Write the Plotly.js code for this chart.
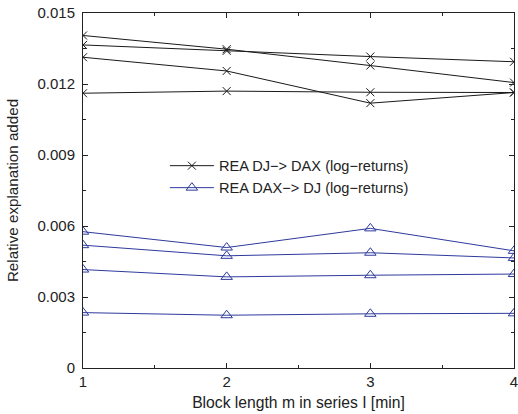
<!DOCTYPE html>
<html><head><meta charset="utf-8">
<script src="https://cdn.plot.ly/plotly-3.0.1.min.js"></script>
<style>html,body{margin:0;padding:0;background:#fff}#c{width:518px;height:414px}</style>
</head><body><div id="c"></div>
<script>
const blockLength = [1, 2, 3, 4];
const djToDax1 = [0.01405, 0.01347, 0.01278, 0.01206];
const djToDax2 = [0.01365, 0.01340, 0.01316, 0.01294];
const djToDax3 = [0.01313, 0.01255, 0.01119, 0.01164];
const djToDax4 = [0.01161, 0.01170, 0.01165, 0.01164];
const daxToDj1 = [0.00576, 0.00509, 0.00590, 0.00495];
const daxToDj2 = [0.00519, 0.00474, 0.00487, 0.00465];
const daxToDj3 = [0.00416, 0.00385, 0.00392, 0.00397];
const daxToDj4 = [0.00234, 0.00223, 0.00229, 0.00231];
const legendNames = ['REA DJ\u2212> DAX (log\u2212returns)', 'REA DAX\u2212> DJ (log\u2212returns)'];

const black = '#1a1a1a', blue = '#2d3a9c';
const traces = [];
[djToDax1, djToDax2, djToDax3, djToDax4].forEach((y, i) => traces.push({
  x: blockLength, y: y, mode: 'lines+markers', type: 'scatter',
  name: legendNames[0], showlegend: i === 0, legendgroup: 'a',
  line: {color: black, width: 1},
  marker: {symbol: 'x-thin-open', size: 8, color: black, line: {color: black, width: 1}}
}));
[daxToDj1, daxToDj2, daxToDj3, daxToDj4].forEach((y, i) => traces.push({
  x: blockLength, y: y, mode: 'lines+markers', type: 'scatter',
  name: legendNames[1], showlegend: i === 0, legendgroup: 'b',
  line: {color: blue, width: 1},
  marker: {symbol: 'triangle-up-open', size: 10, color: blue, line: {color: blue, width: 1}}
}));

const font = {family: 'Liberation Sans, Arial, sans-serif', size: 15, color: '#222'};
const layout = {
  width: 518, height: 414,
  margin: {l: 83, r: 4, t: 13, b: 46},
  paper_bgcolor: '#fff', plot_bgcolor: '#fff',
  font: font,
  showlegend: true,
  legend: {x: 0.19, y: 0.615, xanchor: 'left', yanchor: 'top', bgcolor: 'rgba(0,0,0,0)',
           font: {family: font.family, size: 14.6, color: '#222'}, tracegroupgap: 0, itemwidth: 44},
  xaxis: {
    range: [1, 4], tickvals: [1, 2, 3, 4], ticktext: ['1', '2', '3', '4'],
    showgrid: false, zeroline: false, showline: true, linecolor: '#222', linewidth: 1,
    mirror: 'ticks', ticks: 'inside', ticklen: 5, tickcolor: '#222',
    minor: {dtick: 0.5, tick0: 1, ticks: 'inside', ticklen: 3, tickcolor: '#222'},
    title: {text: 'Block length m in series I [min]', font: {size: 15.7}, standoff: 8},
    tickfont: {size: 15}, ticklabeloverflow: 'allow'
  },
  yaxis: {
    range: [0, 0.015], dtick: 0.003, tick0: 0,
    showgrid: false, zeroline: false, showline: true, linecolor: '#222', linewidth: 1,
    mirror: 'ticks', ticks: 'inside', ticklen: 5, tickcolor: '#222',
    minor: {dtick: 0.0015, tick0: 0, ticks: 'inside', ticklen: 3, tickcolor: '#222'},
    title: {text: 'Relative explanation added', font: {size: 15.2}, standoff: 15},
    tickfont: {size: 15}, ticklabelstandoff: 4, ticklabeloverflow: 'allow'
  }
};
Plotly.newPlot('c', traces, layout, {displayModeBar: false, staticPlot: true});
</script></body></html>
